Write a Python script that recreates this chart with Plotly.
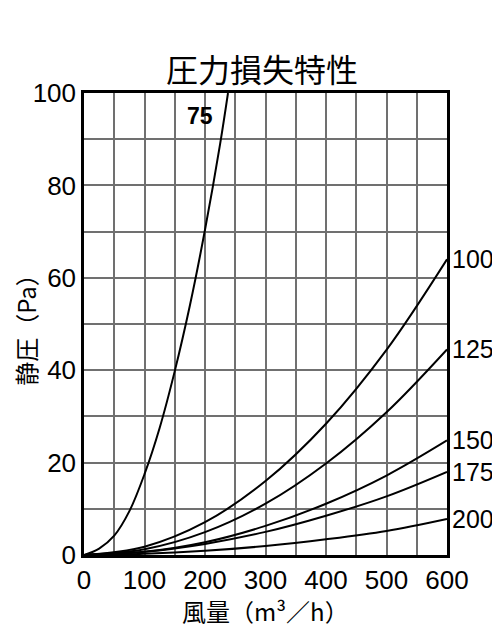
import plotly.graph_objects as go

# Air flow (m3/h) and static pressure (Pa)
x_common = [0, 100, 200, 300, 400, 500, 600]
p_100 = [0, 1.8, 7.1, 16, 28.4, 44.4, 64]
p_125 = [0, 1.24, 4.94, 11.1, 19.8, 30.9, 44.5]
p_150 = [0, 0.69, 2.76, 6.3, 11.1, 17.2, 24.8]
p_175 = [0, 0.7, 2.4, 5, 8.5, 12.7, 18]
p_200 = [0, 0.25, 0.9, 1.95, 3.4, 5.2, 7.8]

x_75 = [0, 25, 50, 75, 100, 125, 150, 175, 200, 225, 238]
p_75 = [0, 1.4, 4.2, 9.5, 17.5, 27.5, 39.8, 54, 70.4, 89, 100]

series = [
    ("100", x_common, p_100),
    ("125", x_common, p_125),
    ("150", x_common, p_150),
    ("175", x_common, p_175),
    ("200", x_common, p_200),
]

title_text = "圧力損失特性"
x_title = "風量（m³／h）"
y_title = "静圧（Pa）"
x_ticks = [0, 100, 200, 300, 400, 500, 600]
y_ticks = [0, 20, 40, 60, 80, 100]

FONT = "Liberation Sans, Arial, Noto Sans CJK JP, sans-serif"
CJK = "Noto Sans CJK JP, sans-serif"

# page offset (browser body margin) compensation
OFF = 8
W, H = 500 - OFF, 638 - OFF
L, T = 84 - OFF, 93 - OFF
PR, PB = 447 - OFF, 555 - OFF  # plot right / bottom in figure pixels
R, B = W - PR, H - PB
PW, PH = PR - L, PB - T


def px(xp):
    return (xp - OFF - L) / PW


def py(yp):
    return (PB - (yp - OFF)) / PH


fig = go.Figure()
fig.add_trace(go.Scatter(x=x_75, y=p_75, mode="lines", line=dict(color="black", width=2, shape="spline"),
                         showlegend=False, hoverinfo="skip"))
for name, xs, ys in series:
    fig.add_trace(go.Scatter(x=xs, y=ys, mode="lines", line=dict(color="black", width=2, shape="spline"),
                             showlegend=False, hoverinfo="skip"))

annotations = []
for name, xs, ys in series:
    annotations.append(dict(x=xs[-1], y=ys[-1], xref="x", yref="y", text=name, showarrow=False,
                            xanchor="left", yanchor="middle", xshift=3,
                            font=dict(family=FONT, size=25, color="black")))
annotations.append(dict(x=192, y=95, xref="x", yref="y", text="<b>75</b>", showarrow=False,
                        xanchor="center", yanchor="middle",
                        font=dict(family=FONT, size=23, color="black")))
annotations.append(dict(x=px(262), y=py(68), xref="paper", yref="paper", text=title_text,
                        showarrow=False, xanchor="center", yanchor="middle",
                        font=dict(family=CJK, size=32, color="black")))
annotations.append(dict(x=px(265), y=py(610), xref="paper", yref="paper", text=x_title,
                        showarrow=False, xanchor="center", yanchor="middle",
                        font=dict(family=CJK, size=24, color="black")))

grid_col = "#707070"
fig.update_layout(
    width=W, height=H,
    margin=dict(l=L, r=R, t=T, b=B),
    paper_bgcolor="white", plot_bgcolor="white",
    annotations=annotations,
    xaxis=dict(range=[0, 600], tickvals=x_ticks, ticks="", showgrid=True, gridcolor=grid_col, gridwidth=1.5,
               showline=True, linecolor="black", linewidth=2.5, mirror=True, zeroline=False, automargin=False,
               tickfont=dict(family=FONT, size=26, color="black"), fixedrange=True,
               minor=dict(dtick=50, tick0=0, showgrid=True, gridcolor=grid_col, gridwidth=1.5)),
    yaxis=dict(range=[0, 100], tickvals=y_ticks, ticks="", showgrid=True, gridcolor=grid_col, gridwidth=1.5,
               showline=True, linecolor="black", linewidth=2.5, mirror=True, zeroline=False, automargin=False,
               tickfont=dict(family=FONT, size=26, color="black"), fixedrange=True,
               title=dict(text=y_title, standoff=0, font=dict(family=CJK, size=24, color="black")),
               minor=dict(dtick=10, tick0=0, showgrid=True, gridcolor=grid_col, gridwidth=1.5)),
)

fig.write_html("out.html")
